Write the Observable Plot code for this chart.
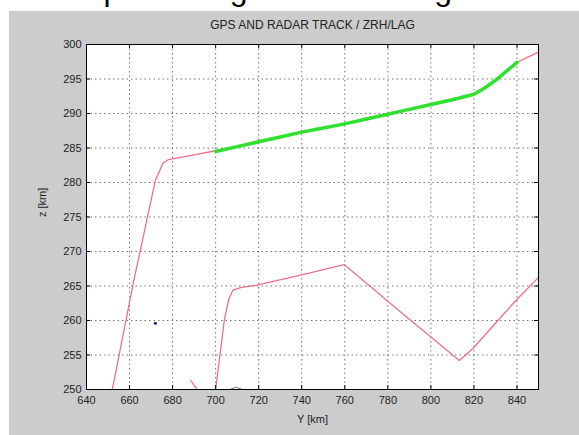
<!DOCTYPE html>
<html><head><meta charset="utf-8">
<script src="https://cdn.jsdelivr.net/npm/d3@7"></script>
<script src="https://cdn.jsdelivr.net/npm/@observablehq/plot@0.6"></script>
<style>
html,body{margin:0;padding:0;background:#fff;width:579px;height:435px;overflow:hidden;}
#cap{position:absolute;left:0;top:0;width:579px;height:11px;overflow:hidden;}
#cap span{position:absolute;left:59px;top:-27px;font:32px "Liberation Sans",Arial,sans-serif;line-height:32px;white-space:nowrap;color:#000;}
#fig{position:absolute;left:9px;top:11px;width:570px;height:424px;background:#cccccc;}
</style></head><body>
<div id="cap"><span>Map showing radar tracking</span></div>
<div id="fig"></div>
<script>
// tick values
const xTicks = [640, 660, 680, 700, 720, 740, 760, 780, 800, 820, 840];
const yTicks = [250, 255, 260, 265, 270, 275, 280, 285, 290, 295, 300];

// GPS track (green)
const gpsY = [700, 710, 720, 730, 740, 750, 760, 770, 780, 790, 800, 810, 820, 825, 830, 835, 840];
const gpsZ = [284.5, 285.2, 285.9, 286.6, 287.3, 287.9, 288.5, 289.2, 289.9, 290.6, 291.3, 292.0, 292.8, 293.7, 294.8, 296.1, 297.4];

// radar track 1 (pink, upper)
const radar1Y = [652, 662, 672, 675.5, 678, 690, 700, 720, 740, 760, 780, 800, 820, 830, 840, 852];
const radar1Z = [250, 265.8, 280.3, 282.8, 283.3, 284.0, 284.6, 285.9, 287.3, 288.5, 289.9, 291.3, 292.8, 294.8, 297.4, 299.2];

// radar track 2 (pink, lower)
const radar2Y = [700, 704, 706, 708, 712, 718.6, 740, 759.7, 786.5, 813.2, 819.4, 839.5, 852];
const radar2Z = [250, 260, 263, 264.4, 264.8, 265.1, 266.6, 268.1, 261.1, 254.2, 255.9, 262.9, 266.9];

// short pink stub near the bottom axis
const stubY = [688.5, 691.8];
const stubZ = [251.3, 249.8];

// short grey stub near the bottom axis
const greyY = [707, 709.5, 712];
const greyZ = [250.05, 250.35, 250.05];

// single blue point
const blueY = [672];
const blueZ = [259.6];

const pts = (xs, zs) => xs.map((x, i) => ({y: x, z: zs[i]}));

const chart = Plot.plot({
  width: 570,
  height: 424,
  marginLeft: 77,
  marginRight: 41,
  marginTop: 33,
  marginBottom: 46,
  style: {background: "transparent", fontFamily: "'Liberation Sans', Arial, sans-serif", fontSize: "11px", color: "#222"},
  x: {domain: [640, 850], ticks: xTicks, tickSize: 0, tickPadding: 7, label: null},
  y: {domain: [250, 300], ticks: yTicks, tickSize: 0, tickPadding: 5, label: null},
  marks: [
    Plot.frame({fill: "white", stroke: "none"}),
    Plot.gridX(xTicks, {stroke: "#000", strokeOpacity: 0.55, strokeDasharray: "1.5,3"}),
    Plot.gridY(yTicks, {stroke: "#000", strokeOpacity: 0.55, strokeDasharray: "1.5,3"}),
    Plot.line(pts(radar1Y, radar1Z), {x: "y", y: "z", stroke: "#f07088", strokeWidth: 1.3, clip: true}),
    Plot.line(pts(radar2Y, radar2Z), {x: "y", y: "z", stroke: "#f07088", strokeWidth: 1.3, clip: true}),
    Plot.line(pts(stubY, stubZ), {x: "y", y: "z", stroke: "#f07088", strokeWidth: 1.3, clip: true}),
    Plot.line(pts(greyY, greyZ), {x: "y", y: "z", stroke: "#777", strokeWidth: 1, clip: true}),
    Plot.line(pts(gpsY, gpsZ), {x: "y", y: "z", stroke: "#2fe02f", strokeWidth: 3.5, clip: true}),
    Plot.dot(pts(blueY, blueZ), {x: "y", y: "z", r: 1.6, fill: "#1a237e", stroke: "none"}),
    Plot.frame({stroke: "#000", strokeWidth: 1}),
    Plot.tickX(xTicks, {x: d => d, insetTop: 341, stroke: "#000"}),
    Plot.tickX(xTicks, {x: d => d, insetBottom: 341, stroke: "#000"}),
    Plot.tickY(yTicks, {y: d => d, insetRight: 448, stroke: "#000"}),
    Plot.tickY(yTicks, {y: d => d, insetLeft: 448, stroke: "#000"}),
    Plot.text(["GPS AND RADAR TRACK / ZRH/LAG"], {frameAnchor: "top", dy: -24, fontSize: 12, fill: "#222"}),
    Plot.text(["Y [km]"], {frameAnchor: "bottom", dy: 33, fontSize: 11, fill: "#222"}),
    Plot.text(["z [km]"], {frameAnchor: "left", dx: -44, rotate: -90, fontSize: 11, fill: "#222"})
  ]
});
document.getElementById("fig").appendChild(chart);
</script>
</body></html>
